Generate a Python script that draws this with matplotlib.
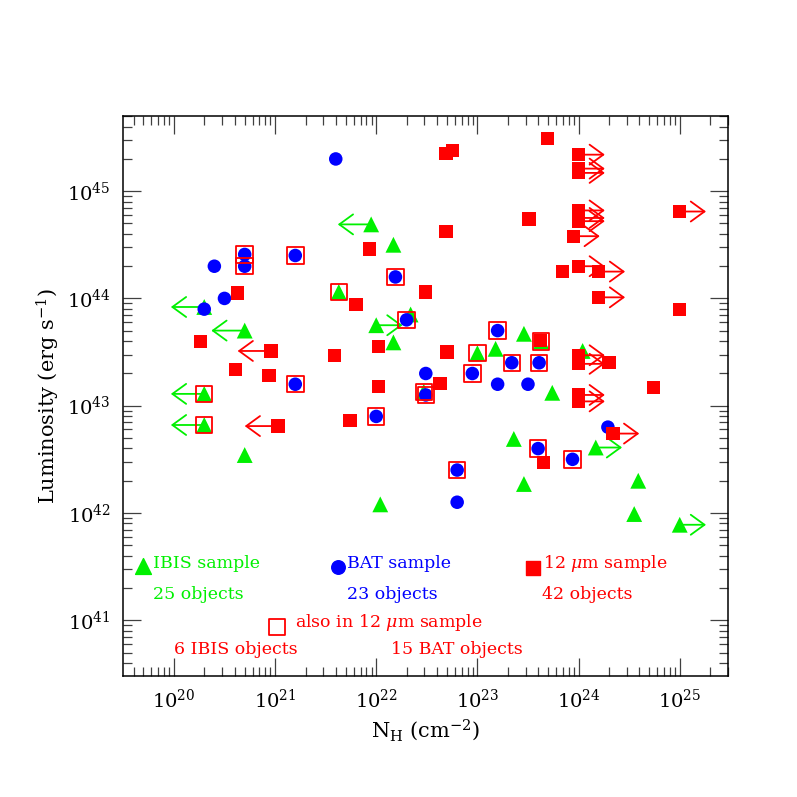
import numpy as np
import matplotlib
matplotlib.use('Agg')
import matplotlib.pyplot as plt

# log10 N_H and log10 L
# IBIS sample (green triangles); lim: '<' upper limit on NH, '>' lower limit
ibis_lognh = [21.95, 22.17, 21.63, 20.30, 22.34, 20.70, 22.00, 22.17, 20.30, 22.47,
              20.30, 20.70, 22.04, 23.46, 23.00, 23.18, 24.04, 23.74, 24.17, 23.36,
              23.46, 24.59, 24.55, 25.00, 23.63]
ibis_logl = [44.69, 44.50, 44.06, 43.92, 43.85, 43.70, 43.75, 43.59, 43.11, 43.13,
             42.82, 42.54, 42.08, 43.67, 43.49, 43.53, 43.51, 43.12, 42.61, 42.69,
             42.27, 42.30, 41.99, 41.89, 43.60]
ibis_lim = ['<', '', '', '<', '', '<', '>', '', '<', '',
            '<', '', '', '', '', '', '', '', '>', '',
            '', '', '', '>', '']
ibis_in12 = [0, 0, 1, 0, 0, 0, 0, 0, 1, 1,
             1, 0, 0, 0, 1, 0, 0, 0, 0, 0,
             0, 0, 0, 0, 1]

# BAT sample (blue circles)
bat_lognh = [21.60, 20.70, 20.70, 21.20, 20.40, 22.19, 20.50, 20.30, 22.30, 21.20,
             22.49, 22.49, 22.00, 23.20, 23.34, 23.61, 22.95, 23.20, 23.50, 24.29,
             23.60, 23.94, 22.80, 22.80]
bat_logl = [45.30, 44.41, 44.30, 44.40, 44.30, 44.20, 44.00, 43.90, 43.80, 43.20,
            43.30, 43.10, 42.90, 43.70, 43.40, 43.40, 43.30, 43.20, 43.20, 42.80,
            42.60, 42.50, 42.40, 42.10]
bat_in12 = [0, 1, 1, 1, 0, 1, 0, 0, 1, 1,
            0, 1, 1, 1, 1, 1, 1, 0, 0, 0,
            1, 1, 1, 0]

# 12 micron sample (red squares)
mir_lognh = [21.93, 20.63, 22.49, 21.80, 20.26, 20.96, 21.59, 22.02, 20.61, 20.94,
             22.02, 21.03, 21.74, 23.69, 22.69, 22.75, 24.00, 24.00, 24.00, 24.00,
             24.00, 24.00, 23.95, 25.00, 23.51, 22.69, 23.84, 24.00, 24.20, 24.20,
             25.00, 23.62, 22.70, 24.00, 24.00, 24.30, 22.63, 24.74, 24.00, 24.00,
             24.34, 23.65]
mir_logl = [44.46, 44.05, 44.06, 43.94, 43.60, 43.51, 43.47, 43.55, 43.34, 43.28,
            43.18, 42.81, 42.86, 45.49, 45.35, 45.38, 45.34, 45.21, 45.17, 44.82,
            44.75, 44.72, 44.58, 44.81, 44.74, 44.62, 44.25, 44.30, 44.25, 44.01,
            43.90, 43.61, 43.50, 43.47, 43.39, 43.40, 43.21, 43.17, 43.10, 43.04,
            42.74, 42.47]
mir_lim = ['', '', '', '', '', '<', '', '', '', '',
           '', '<', '', '', '', '', '>', '>', '>', '>',
           '>', '>', '>', '>', '', '', '', '>', '>', '>',
           '', '', '', '>', '>', '', '', '', '>', '>',
           '>', '']

green = '#00f000'
blue = '#0000ff'
red = '#ff0000'

plt.rcParams['font.family'] = 'DejaVu Serif'
plt.rcParams['mathtext.fontset'] = 'dejavuserif'

fig = plt.figure(figsize=(7.97, 7.97), dpi=100)
ax = fig.add_axes([0.1547, 0.1518, 0.7591, 0.7026])


def draw_limits(lognh, logl, lim, color, z):
    for x, y, l in zip(lognh, logl, lim):
        if l == '':
            continue
        dx = -0.33 if l == '<' else 0.26
        ax.annotate('', xy=(10**(x + dx), 10**y), xytext=(10**x, 10**y),
                    arrowprops=dict(arrowstyle='->,head_length=0.55,head_width=0.4',
                                    color=color, lw=1.3, mutation_scale=18,
                                    shrinkA=0, shrinkB=0),
                    zorder=z)


ibis_x = 10**np.array(ibis_lognh)
ibis_y = 10**np.array(ibis_logl)
bat_x = 10**np.array(bat_lognh)
bat_y = 10**np.array(bat_logl)
mir_x = 10**np.array(mir_lognh)
mir_y = 10**np.array(mir_logl)

draw_limits(ibis_lognh, ibis_logl, ibis_lim, green, 2)
ax.scatter(ibis_x, ibis_y, marker='^', s=130, color=green, edgecolors='none', zorder=3)
ax.scatter(bat_x, bat_y, marker='o', s=95, color=blue, edgecolors='none', zorder=4)
draw_limits(mir_lognh, mir_logl, mir_lim, red, 5)
ax.scatter(mir_x, mir_y, marker='s', s=90, color=red, edgecolors='none', zorder=5)

# open squares: IBIS / BAT objects also in the 12 micron sample
m_i = np.array(ibis_in12, dtype=bool)
m_b = np.array(bat_in12, dtype=bool)
ox = np.concatenate([ibis_x[m_i], bat_x[m_b]])
oy = np.concatenate([ibis_y[m_i], bat_y[m_b]])
ax.scatter(ox, oy, marker='s', s=140, facecolors='none', edgecolors=red,
           linewidths=1.3, zorder=6)

ax.set_xscale('log')
ax.set_yscale('log')
ax.set_xlim(10**19.5, 10**25.48)
ax.set_ylim(10**40.48, 10**45.7)

ax.tick_params(which='both', direction='in', top=True, right=True, width=0.9, color='0.25')
ax.tick_params(which='major', length=13, labelsize=14, pad=9)
ax.tick_params(which='minor', length=6.5)
for sp in ax.spines.values():
    sp.set_linewidth(1.1)

ax.set_xlabel(r'N$_{\rm H}$ (cm$^{-2}$)', fontsize=15, labelpad=4)
ax.set_ylabel(r'Luminosity (erg s$^{-1}$)', fontsize=15, labelpad=4)

# legend written into the plot
tr = ax.transAxes
fs = 12.5
ax.scatter([0.033], [0.196], marker='^', s=130, color=green, transform=tr, clip_on=False)
ax.text(0.049, 0.201, 'IBIS sample', color=green, fontsize=fs, transform=tr, va='center')
ax.text(0.049, 0.146, '25 objects', color=green, fontsize=fs, transform=tr, va='center')
ax.scatter([0.355], [0.194], marker='o', s=95, color=blue, transform=tr, clip_on=False)
ax.text(0.370, 0.201, 'BAT sample', color=blue, fontsize=fs, transform=tr, va='center')
ax.text(0.370, 0.146, '23 objects', color=blue, fontsize=fs, transform=tr, va='center')
ax.scatter([0.677], [0.193], marker='s', s=90, color=red, transform=tr, clip_on=False)
ax.text(0.693, 0.201, r'12 $\mu$m sample', color=red, fontsize=fs, transform=tr, va='center')
ax.text(0.692, 0.146, '42 objects', color=red, fontsize=fs, transform=tr, va='center')
ax.scatter([0.254], [0.088], marker='s', s=140, facecolors='none', edgecolors=red,
           linewidths=1.3, transform=tr, clip_on=False)
ax.text(0.283, 0.096, r'also in 12 $\mu$m sample', color=red, fontsize=fs, transform=tr, va='center')
ax.text(0.084, 0.048, '6 IBIS objects', color=red, fontsize=fs, transform=tr, va='center')
ax.text(0.442, 0.048, '15 BAT objects', color=red, fontsize=fs, transform=tr, va='center')

fig.savefig('out.png', dpi=100)
